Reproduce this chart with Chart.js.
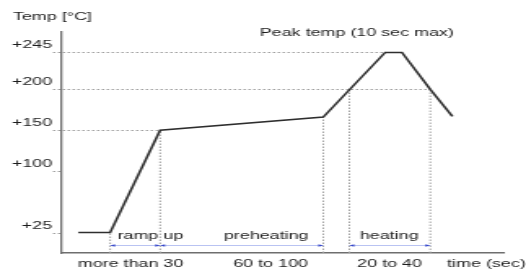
<!DOCTYPE html>
<html>
<head>
<meta charset="utf-8">
<script src="https://cdn.jsdelivr.net/npm/chart.js@4.4.1/dist/chart.umd.min.js"></script>
<style>
  html, body { margin: 0; padding: 0; background: #fff; overflow: hidden; }
  /* the reference is a horizontally stretched picture, so the chart is drawn narrow and stretched */
  #wrap { width: 323px; height: 271px; transform: scaleX(1.6285); transform-origin: 0 0; }
</style>
</head>
<body>
<div id="wrap"><canvas id="reflow-profile-chart"></canvas></div>
<script>
// reflow profile curve (time in arbitrary units, temperature in °C)
const timePoints = [3.9, 11.1, 22.4, 59.3, 73.3, 77.1, 83.5, 88.5];
const tempPoints = [25, 25, 150, 166, 245, 245, 200, 167];

// y axis ticks
const yTickValues = [25, 100, 150, 200, 245];

// x axis labels and where they sit on the time axis
const xTickValues = [15.7, 47.4, 74.3, 96.2];
const xTickLabels = ['more than 30', '60 to 100', '20 to 40', 'time (sec)'];

// dotted guide lines
const hGuideTemps = [245, 200, 150, 100, 25];
const hGuideEnds = [73.3, 83.5, 22.4, null, null];
const vGuideTimes = [11.1, 22.4, 59.3, 65.2, 83.5];
const vGuideTemps = [25, 150, 166, 200, 200];

// phases shown with arrows under the curve
const phaseStarts = [11.1, 22.4, 65.2];
const phaseEnds = [22.4, 59.3, 83.5];
const phaseLabels = ['ramp up', 'preheating', 'heating'];
const phaseLabelTimes = [20.2, 46.4, 74.2];

const yTitle = 'Temp [°C]';
const peakNote = 'Peak temp (10 sec max)';
const peakNoteTime = 66.9;

const FONT_FAMILY = '"Liberation Sans", Arial, Helvetica, sans-serif';
const TEXT_COLOR = '#1c1c1c';

const profileDecorations = {
    id: 'profileDecorations',
    beforeDatasetsDraw(chart) {
        const {ctx, scales: {x, y}} = chart;
        ctx.save();
        ctx.strokeStyle = '#a0a0a0';
        ctx.lineWidth = 1;
        ctx.setLineDash([1.5, 1.5]);
        hGuideTemps.forEach((t, i) => {
            const py = Math.round(y.getPixelForValue(t)) + 0.5;
            const end = hGuideEnds[i] === null ? x.left : x.getPixelForValue(hGuideEnds[i]);
            ctx.beginPath();
            ctx.moveTo(x.left - 5, py);
            ctx.lineTo(end, py);
            ctx.stroke();
        });
        vGuideTimes.forEach((t, i) => {
            const px = x.getPixelForValue(t);
            ctx.beginPath();
            ctx.moveTo(px, y.getPixelForValue(0));
            ctx.lineTo(px, y.getPixelForValue(vGuideTemps[i]));
            ctx.stroke();
        });
        ctx.restore();
    },
    afterDraw(chart) {
        const {ctx, chartArea, scales: {x, y}} = chart;
        const arrowY = Math.round(y.bottom - 8) + 0.5;
        ctx.save();
        phaseStarts.forEach((s, i) => {
            const sx = x.getPixelForValue(s);
            const ex = x.getPixelForValue(phaseEnds[i]);
            ctx.strokeStyle = '#b9c3f2';
            ctx.lineWidth = 1;
            ctx.beginPath();
            ctx.moveTo(sx, arrowY);
            ctx.lineTo(ex, arrowY);
            ctx.stroke();
            ctx.fillStyle = '#3546c8';
            ctx.beginPath();
            ctx.moveTo(sx, arrowY);
            ctx.lineTo(sx + 3, arrowY - 1.3);
            ctx.lineTo(sx + 3, arrowY + 1.3);
            ctx.fill();
            ctx.beginPath();
            ctx.moveTo(ex, arrowY);
            ctx.lineTo(ex - 3, arrowY - 1.3);
            ctx.lineTo(ex - 3, arrowY + 1.3);
            ctx.fill();

            ctx.fillStyle = TEXT_COLOR;
            ctx.font = '11px ' + FONT_FAMILY;
            ctx.textAlign = 'center';
            ctx.textBaseline = 'middle';
            ctx.fillText(phaseLabels[i], x.getPixelForValue(phaseLabelTimes[i]), arrowY - 10);
        });

        ctx.fillStyle = TEXT_COLOR;
        ctx.font = '11px ' + FONT_FAMILY;
        ctx.textBaseline = 'middle';
        ctx.textAlign = 'left';
        ctx.fillText(yTitle, 8, 17);
        ctx.textAlign = 'center';
        ctx.fillText(peakNote, x.getPixelForValue(peakNoteTime), chartArea.top + 1);
        ctx.restore();
    }
};

const ctx = document.getElementById('reflow-profile-chart');

const data = {
    datasets: [
        {
            data: timePoints.map((t, i) => ({x: t, y: tempPoints[i]})),
            borderColor: '#2e2e2e',
            borderWidth: 1.6,
            pointRadius: 0,
            tension: 0,
            fill: false,
        }
    ]
};

const config = {
    type: 'line',
    data: data,
    options: {
        responsive: true,
        maintainAspectRatio: false,
        animation: false,
        layout: {
            padding: {top: 32, right: 14, bottom: 0, left: 0}
        },
        plugins: {
            legend: {display: false},
            tooltip: {enabled: false},
        },
        scales: {
            x: {
                type: 'linear',
                min: 0,
                max: 100,
                grid: {display: false, drawTicks: false},
                border: {display: true, color: '#6e6e6e', width: 1.6},
                afterBuildTicks: function(scale) {
                    scale.ticks = xTickValues.map(v => ({value: v}));
                },
                afterFit: function(scale) {
                    scale.height = 18;
                    scale.paddingLeft = 0;
                    scale.paddingRight = 0;
                },
                ticks: {
                    autoSkip: false,
                    maxRotation: 0,
                    padding: 4,
                    color: TEXT_COLOR,
                    font: {family: FONT_FAMILY, size: 11},
                    callback: function(value, index) {
                        return xTickLabels[index];
                    }
                }
            },
            y: {
                type: 'linear',
                min: 0,
                max: 270,
                grid: {display: false, drawTicks: false},
                border: {display: true, color: '#6e6e6e', width: 1.3},
                afterBuildTicks: function(scale) {
                    scale.ticks = yTickValues.map(v => ({value: v}));
                },
                afterFit: function(scale) {
                    scale.width = 37.5;
                    scale.paddingTop = 0;
                    scale.paddingBottom = 0;
                },
                ticks: {
                    padding: 5.5,
                    labelOffset: -7,
                    color: TEXT_COLOR,
                    font: {family: FONT_FAMILY, size: 11},
                    callback: function(value) {
                        return '+' + value;
                    }
                }
            }
        }
    },
    plugins: [profileDecorations]
};

new Chart(ctx, config);
</script>
</body>
</html>
